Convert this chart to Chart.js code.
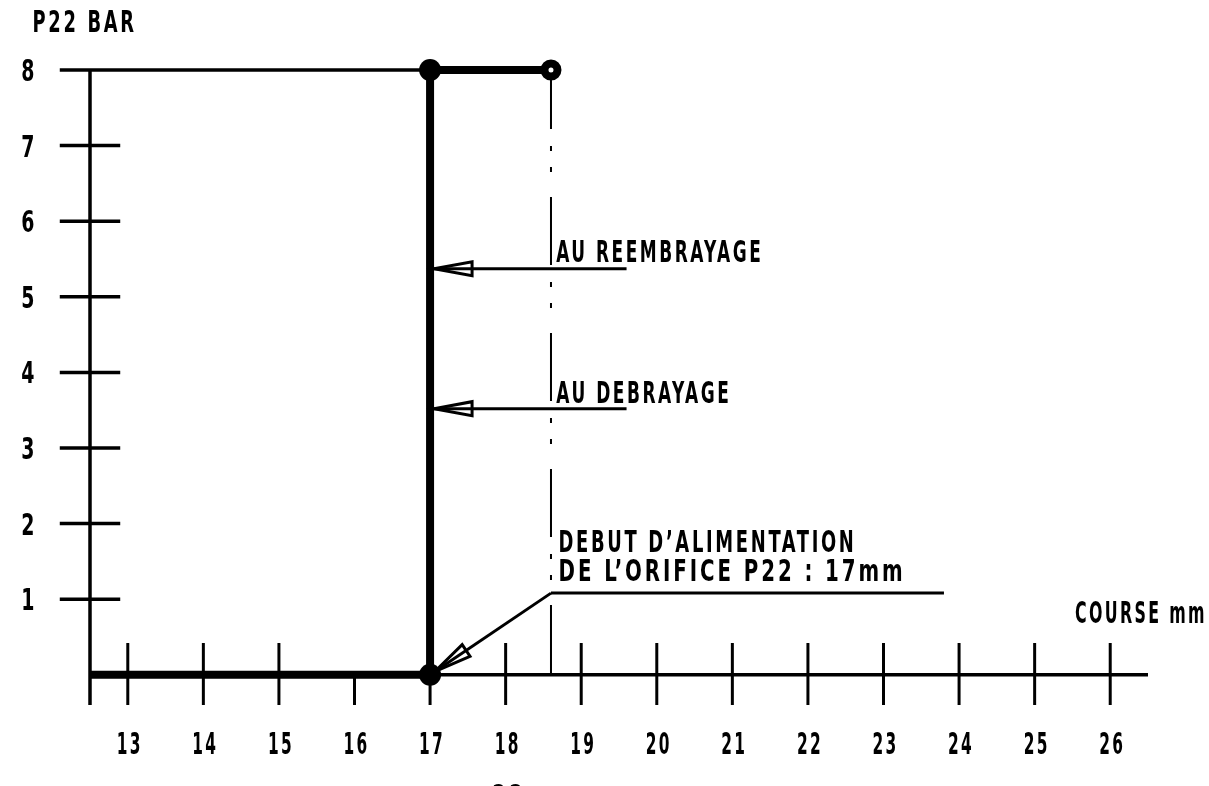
<!DOCTYPE html>
<html>
<head>
<meta charset="utf-8">
<script src="https://cdn.jsdelivr.net/npm/chart.js@4/dist/chart.umd.min.js"></script>
<style>
  html, body { margin: 0; padding: 0; background: #fff; }
  .chart { width: 1209px; height: 786px; }
</style>
</head>
<body>
<div class="chart"><canvas id="chart"></canvas></div>
<script>
// course (mm) and pressure (bar) scale
const courseTicks = [13, 14, 15, 16, 17, 18, 19, 20, 21, 22, 23, 24, 25, 26]
const pressureTicks = [1, 2, 3, 4, 5, 6, 7, 8]
const shortTicks = [16, 17]

// pressure profile P22
const profileX = [12.5, 17, 17, 18.6]
const profileY = [0, 0, 8, 8]

// annotations
const switchCourse = 18.6
const arrowLevels = [5.37, 3.52]
const arrowLabels = ['AU REEMBRAYAGE', 'AU DEBRAYAGE']
const noteLines = ['DEBUT D\u2019ALIMENTATION', 'DE L\u2019ORIFICE P22 : 17mm']
const yTitle = 'P22 BAR'
const xTitle = 'COURSE mm'

const FONT = "bold 30px 'Liberation Sans Narrow', 'DejaVu Sans Condensed', 'Liberation Sans', sans-serif"

function text(ctx, str, x, yMid, width, align) {
  ctx.save()
  ctx.font = FONT
  ctx.letterSpacing = '4px'
  ctx.textAlign = align || 'left'
  ctx.textBaseline = 'alphabetic'
  ctx.fillStyle = '#000'
  ctx.fillText(str, x, yMid + 11, width)
  ctx.restore()
}

function arrow(ctx, x1, y1, x2, y2) {
  const a = Math.atan2(y2 - y1, x2 - x1)
  const L = 38, W = 7
  const bx = x2 - L * Math.cos(a), by = y2 - L * Math.sin(a)
  ctx.beginPath()
  ctx.moveTo(x1, y1)
  ctx.lineTo(x2, y2)
  ctx.stroke()
  ctx.beginPath()
  ctx.moveTo(x2, y2)
  ctx.lineTo(bx - W * Math.sin(a), by + W * Math.cos(a))
  ctx.lineTo(bx + W * Math.sin(a), by - W * Math.cos(a))
  ctx.closePath()
  ctx.stroke()
}

const drawing = {
  id: 'drawing',
  beforeDatasetsDraw(chart) {
    const { ctx, scales: { x, y } } = chart
    const seg = (x1, y1, x2, y2) => {
      ctx.beginPath()
      ctx.moveTo(x.getPixelForValue(x1), y.getPixelForValue(y1))
      ctx.lineTo(x.getPixelForValue(x2), y.getPixelForValue(y2))
      ctx.stroke()
    }
    ctx.save()
    ctx.strokeStyle = '#000'
    ctx.lineWidth = 3.5
    ctx.lineCap = 'butt'
    // axes
    seg(12.5, -0.4, 12.5, 8)
    seg(17, 0, 26.5, 0)
    seg(12.1, 8, 17, 8)
    pressureTicks.filter(v => v < 8).forEach(v => seg(12.1, v, 12.9, v))
    ctx.lineWidth = 3
    courseTicks.forEach(v => seg(v, shortTicks.includes(v) ? 0 : 0.42, v, -0.4))
    // dash-dot line
    ctx.lineWidth = 2
    ctx.setLineDash([68, 17, 5, 16, 5, 25])
    ctx.lineDashOffset = 9
    seg(switchCourse, 8, switchCourse, 0)
    ctx.restore()
  },
  afterDatasetsDraw(chart) {
    const { ctx, scales: { x, y } } = chart
    const px = v => x.getPixelForValue(v)
    const py = v => y.getPixelForValue(v)
    ctx.save()
    ctx.strokeStyle = '#000'
    ctx.lineWidth = 3
    arrowLevels.forEach(v => arrow(ctx, px(19.6), py(v), px(17) + 4, py(v)))
    // leader of the note
    ctx.beginPath()
    ctx.moveTo(px(23.8), py(1.08))
    ctx.lineTo(px(switchCourse), py(1.08))
    ctx.stroke()
    arrow(ctx, px(switchCourse), py(1.08), px(17.06), py(0.04))
    ctx.restore()

    // labels
    text(ctx, arrowLabels[0], px(18.67), py(5.61), 207)
    text(ctx, arrowLabels[1], px(18.67), py(3.74), 175)
    text(ctx, noteLines[0], px(18.7), py(1.77), 298)
    text(ctx, noteLines[1], px(18.7), py(1.39), 347)
    text(ctx, xTitle, px(27.28), py(0.83), 132, 'right')
    text(ctx, yTitle, px(11.74), py(8.65), 104)
    courseTicks.forEach(v => text(ctx, String(v), px(v) + 2, py(-0.9), 26, 'center'))
    pressureTicks.forEach(v => text(ctx, String(v), px(11.67) + 2, py(v), 16, 'center'))
    text(ctx, '22', px(18.02) + 2, py(-1.59), 34, 'center')
  }
}

new Chart(document.getElementById('chart'), {
  type: 'scatter',
  data: {
    datasets: [{
      data: profileX.map((v, i) => ({ x: v, y: profileY[i] })),
      showLine: true,
      borderColor: '#000',
      borderWidth: 8,
      borderJoinStyle: 'miter',
      borderCapStyle: 'butt',
      pointRadius: [0, 11, 11, 6.5],
      pointBorderWidth: [0, 0, 0, 8],
      pointBackgroundColor: ['#000', '#000', '#000', '#fff'],
      pointBorderColor: '#000',
      clip: false
    }]
  },
  options: {
    responsive: true,
    maintainAspectRatio: false,
    animation: false,
    events: [],
    layout: { padding: { left: 90, right: 61, top: 70, bottom: 81 } },
    plugins: { legend: { display: false }, tooltip: { enabled: false } },
    scales: {
      x: { type: 'linear', min: 12.5, max: 26.5, display: false },
      y: { type: 'linear', min: -0.4, max: 8, display: false }
    }
  },
  plugins: [drawing]
})
</script>
</body>
</html>
